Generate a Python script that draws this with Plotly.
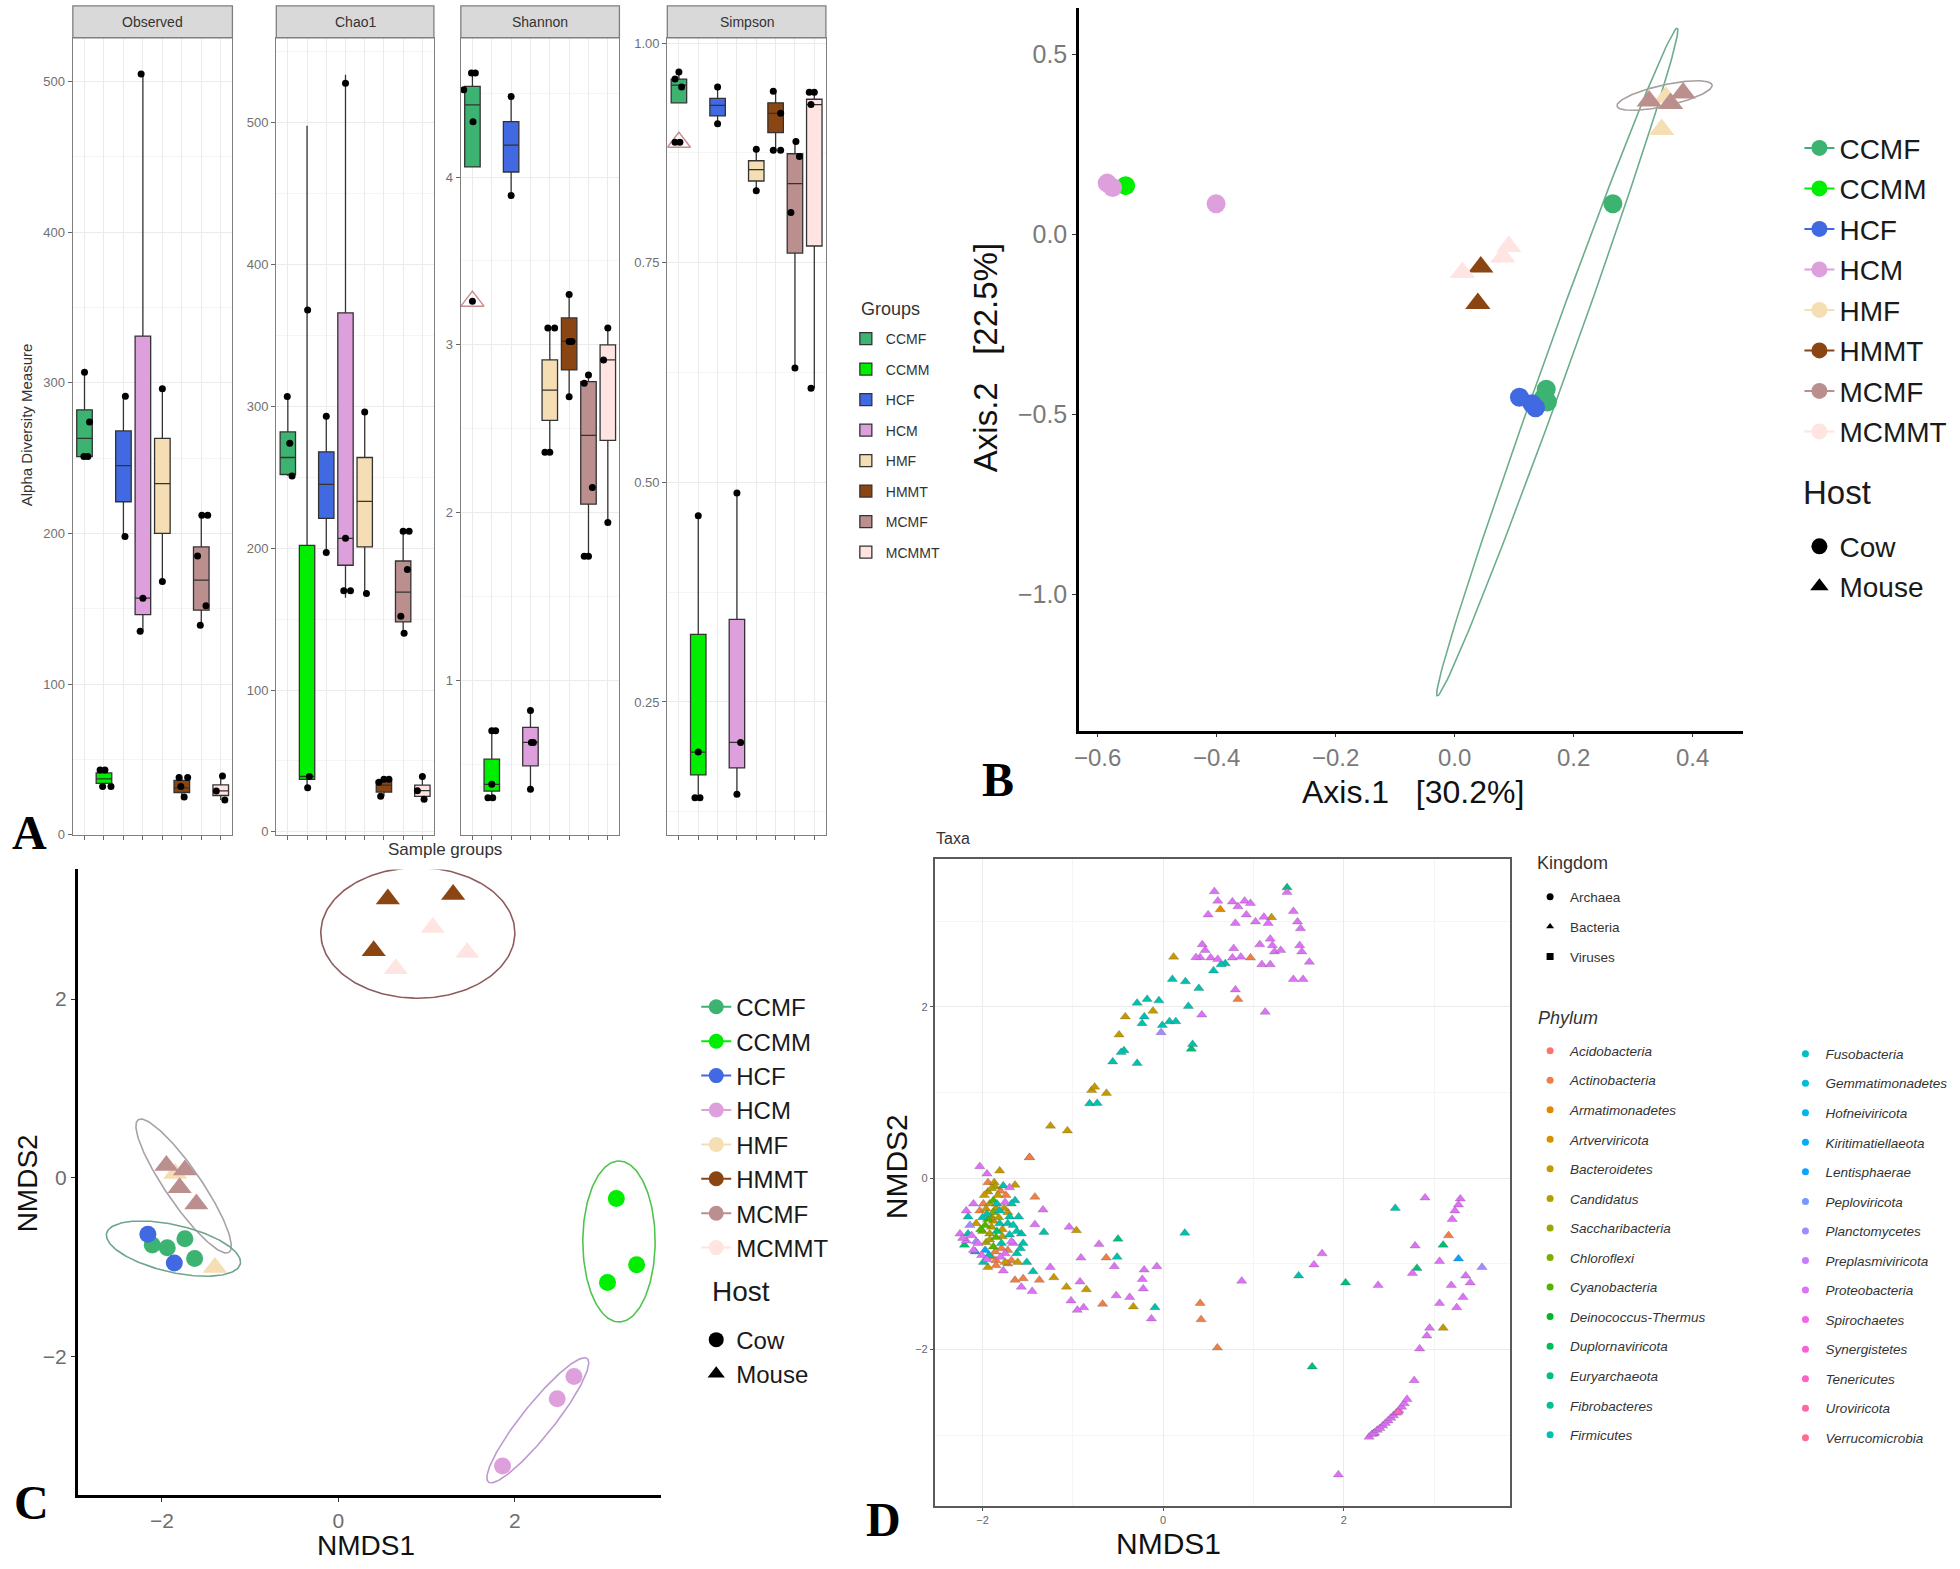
import math
import plotly.graph_objects as go

W, H = 1960, 1569
SANS = "Liberation Sans, Arial, sans-serif"
SERIF = "Liberation Serif, Times New Roman, serif"

# ---------------- shared categories ----------------
GROUPS = ["CCMF", "CCMM", "HCF", "HCM", "HMF", "HMMT", "MCMF", "MCMMT"]
GROUP_COLORS = ["#3CB371", "#00EE00", "#4169E1", "#DDA0DD", "#F5DEB3", "#8B4513", "#BC8F8F", "#FFE4E1"]
GROUP_HOST = ["Cow", "Cow", "Cow", "Cow", "Mouse", "Mouse", "Mouse", "Mouse"]
HOSTS = ["Cow", "Mouse"]

# ---------------- panel A : alpha diversity ----------------
FACETS = ["Observed", "Chao1", "Shannon", "Simpson"]

OBSERVED_LOW = [250, 31, 198, 135, 168, 24, 139, 23]
OBSERVED_Q1 = [251, 34, 221, 146, 200, 28, 149, 26]
OBSERVED_MED = [263, 37, 245, 157, 233, 31, 169, 29]
OBSERVED_Q3 = [282, 41, 268, 331, 263, 36, 191, 33]
OBSERVED_HIGH = [307, 44, 291, 505, 296, 38, 212, 39]
OBSERVED_PT_GROUP = ["CCMF", "CCMF", "CCMF", "CCMF", "CCMM", "CCMM", "CCMM", "CCMM", "HCF", "HCF",
                     "HCM", "HCM", "HCM", "HMF", "HMF", "HMMT", "HMMT", "HMMT", "HMMT",
                     "MCMF", "MCMF", "MCMF", "MCMF", "MCMF", "MCMMT", "MCMMT", "MCMMT"]
OBSERVED_PT_JITTER = [0, 0.26, -0.03, 0.17, -0.2, 0.05, -0.07, 0.36, 0.1, 0.08,
                      -0.09, 0, -0.14, 0, 0, -0.14, 0.3, -0.05, 0.12,
                      0.03, 0.33, -0.19, 0.24, -0.05, 0.09, -0.23, 0.21]
OBSERVED_PT_VALUE = [307, 274, 251, 251, 43, 43, 32, 32, 291, 198,
                     505, 157, 135, 296, 168, 38, 38, 32, 25,
                     212, 212, 185, 152, 139, 39, 29, 23]

CHAO1_LOW = [251, 31, 197, 165, 168, 25, 140, 23]
CHAO1_Q1 = [252, 37, 221, 188, 201, 28, 148, 25]
CHAO1_MED = [264, 39, 245, 207, 233, 33, 169, 29]
CHAO1_Q3 = [282, 202, 268, 366, 264, 36, 191, 33]
CHAO1_HIGH = [307, 498, 293, 534, 296, 37, 212, 39]
CHAO1_PT_GROUP = ["CCMF", "CCMF", "CCMF", "CCMM", "CCMM", "CCMM", "HCF", "HCF",
                  "HCM", "HCM", "HCM", "HCM", "HMF", "HMF", "HMMT", "HMMT", "HMMT", "HMMT",
                  "MCMF", "MCMF", "MCMF", "MCMF", "MCMF", "MCMMT", "MCMMT", "MCMMT"]
CHAO1_PT_JITTER = [-0.03, 0.1, 0.22, 0.03, 0.12, 0.03, 0, 0,
                   0, 0, 0.26, -0.09, 0, 0.09, -0.26, 0, 0.26, -0.17,
                   0, 0.31, 0.22, -0.12, 0.05, 0, -0.26, 0.09]
CHAO1_PT_VALUE = [307, 274, 251, 368, 39, 31, 293, 197,
                  528, 207, 170, 170, 296, 168, 35, 37, 37, 25,
                  212, 212, 185, 152, 140, 39, 29, 23]

SHANNON_LOW = [4.06, 0.30, 3.89, 0.35, 2.36, 2.69, 1.74, 1.94]
SHANNON_Q1 = [4.06, 0.34, 4.03, 0.49, 2.55, 2.85, 2.05, 2.43]
SHANNON_MED = [4.43, 0.38, 4.19, 0.63, 2.73, 3.02, 2.46, 2.91]
SHANNON_Q3 = [4.54, 0.53, 4.33, 0.72, 2.91, 3.16, 2.78, 3.00]
SHANNON_HIGH = [4.62, 0.70, 4.48, 0.82, 3.10, 3.30, 2.82, 3.10]
SHANNON_PT_GROUP = ["CCMF", "CCMF", "CCMF", "CCMF", "CCMF", "CCMM", "CCMM", "CCMM", "CCMM", "CCMM",
                    "HCF", "HCF", "HCM", "HCM", "HCM", "HCM", "HMF", "HMF", "HMF", "HMF",
                    "HMMT", "HMMT", "HMMT", "HMMT", "MCMF", "MCMF", "MCMF", "MCMF", "MCMF",
                    "MCMMT", "MCMMT", "MCMMT"]
SHANNON_PT_JITTER = [-0.05, 0.15, -0.45, 0.03, 0, 0, 0.2, 0, -0.2, 0.05,
                     0, 0, 0, 0.05, 0.15, 0, -0.1, 0.25, -0.25, 0,
                     0, 0, 0.14, 0, 0, -0.22, 0.2, 0, -0.22,
                     0, -0.22, 0]
SHANNON_PT_VALUE = [4.62, 4.62, 4.52, 4.33, 3.26, 0.70, 0.70, 0.38, 0.30, 0.30,
                    4.48, 3.89, 0.82, 0.63, 0.63, 0.35, 3.10, 3.10, 2.36, 2.36,
                    3.30, 3.02, 3.02, 2.69, 2.82, 2.77, 2.15, 1.74, 1.74,
                    3.10, 2.91, 1.94]
SHANNON_OPEN_TRIANGLE = 3.26

SIMPSON_LOW = [0.932, 0.141, 0.908, 0.145, 0.832, 0.878, 0.630, 0.607]
SIMPSON_Q1 = [0.932, 0.167, 0.917, 0.175, 0.843, 0.898, 0.761, 0.769]
SIMPSON_MED = [0.952, 0.193, 0.929, 0.204, 0.856, 0.920, 0.840, 0.930]
SIMPSON_Q3 = [0.959, 0.327, 0.937, 0.344, 0.866, 0.932, 0.874, 0.936]
SIMPSON_HIGH = [0.967, 0.462, 0.950, 0.488, 0.879, 0.945, 0.888, 0.944]
SIMPSON_PT_GROUP = ["CCMF", "CCMF", "CCMF", "CCMF", "CCMF", "CCMM", "CCMM", "CCMM", "CCMM",
                    "HCF", "HCF", "HCM", "HCM", "HCM", "HMF", "HMF",
                    "HMMT", "HMMT", "HMMT", "HMMT", "MCMF", "MCMF", "MCMF", "MCMF",
                    "MCMMT", "MCMMT", "MCMMT", "MCMMT"]
SIMPSON_PT_JITTER = [0, -0.2, 0.14, -0.2, 0.05, 0, 0, -0.17, 0.09,
                     0, 0, 0, 0.19, 0, 0, 0,
                     -0.12, 0.26, -0.12, 0.26, 0.05, 0.23, -0.21, 0,
                     -0.26, 0, -0.17, -0.17]
SIMPSON_PT_VALUE = [0.967, 0.959, 0.950, 0.887, 0.887, 0.462, 0.193, 0.141, 0.141,
                    0.950, 0.908, 0.488, 0.204, 0.145, 0.879, 0.832,
                    0.945, 0.920, 0.878, 0.878, 0.888, 0.871, 0.807, 0.630,
                    0.944, 0.944, 0.930, 0.607]
SIMPSON_OPEN_TRIANGLE = 0.887

OBSERVED_TICKS = [0, 100, 200, 300, 400, 500]
CHAO1_TICKS = [0, 100, 200, 300, 400, 500]
SHANNON_TICKS = [1, 2, 3, 4]
SIMPSON_TICKS = [0.25, 0.50, 0.75, 1.00]

# ---------------- panel B : PCoA ----------------
PCOA_GROUP = ["CCMF", "CCMF", "CCMF", "CCMF", "CCMM", "HCF", "HCF", "HCF", "HCM", "HCM", "HCM",
              "HMF", "HMF", "HMMT", "HMMT", "MCMF", "MCMF", "MCMF", "MCMMT", "MCMMT", "MCMMT"]
PCOA_X = [0.266, 0.154, 0.156, 0.150, -0.553, 0.109, 0.136, 0.130, -0.584, -0.575, -0.401,
          0.348, 0.355, 0.044, 0.039, 0.327, 0.363, 0.384, 0.013, 0.081, 0.091]
PCOA_Y = [0.085, -0.430, -0.465, -0.452, 0.135, -0.452, -0.481, -0.470, 0.142, 0.130, 0.085,
          0.291, 0.380, -0.091, -0.192, 0.370, 0.363, 0.392, -0.106, -0.063, -0.034]
# confidence ellipses: group, centre x, centre y, conjugate semi-axis vectors (u, v)
PCOA_ELLIPSE_GROUP = ["CCMF", "MCMF"]
PCOA_ELLIPSE_CX = [0.1725, 0.353]
PCOA_ELLIPSE_CY = [-0.3545, 0.385]
PCOA_ELLIPSE_U = [(0.2015, 0.9265), (0.080, 0.028)]
PCOA_ELLIPSE_V = [(0.022, 0.0), (0.0, 0.030)]
PCOA_X_TICKS = [-0.6, -0.4, -0.2, 0.0, 0.2, 0.4]
PCOA_Y_TICKS = [-1.0, -0.5, 0.0, 0.5]

# ---------------- panel C : NMDS samples ----------------
NMDS_GROUP = ["HMMT", "HMMT", "HMMT", "MCMMT", "MCMMT", "MCMMT", "MCMF", "MCMF", "MCMF", "MCMF",
              "HMF", "HMF", "CCMF", "CCMF", "CCMF", "CCMF", "HCF", "HCF", "CCMM", "CCMM", "CCMM",
              "HCM", "HCM", "HCM"]
NMDS_X = [0.56, 1.30, 0.40, 1.07, 1.46, 0.65, -1.95, -1.74, -1.80, -1.61,
          -1.40, -1.85, -2.11, -1.94, -1.74, -1.63, -2.16, -1.86, 3.15, 3.38, 3.05,
          2.67, 2.48, 1.86]
NMDS_Y = [3.12, 3.17, 2.54, 2.80, 2.52, 2.34, 0.14, 0.09, -0.11, -0.29,
          -1.00, 0.05, -0.75, -0.78, -0.68, -0.90, -0.63, -0.95, -0.23, -0.97, -1.17,
          -2.22, -2.47, -3.22]
NMDS_ELLIPSE_COLOR_KEY = ["HMMT", "MCMF", "CCMF", "CCMM", "HCM"]
NMDS_ELLIPSE_CX = [0.90, -1.755, -1.87, 3.18, 2.26]
NMDS_ELLIPSE_CY = [2.74, -0.09, -0.79, -0.71, -2.71]
NMDS_ELLIPSE_U = [(1.10, 0.0), (0.515, -0.74), (0.76, -0.15), (0.0, 0.90), (0.56, 0.69)]
NMDS_ELLIPSE_V = [(0.0, 0.73), (0.164, 0.114), (0.0, 0.27), (0.41, 0.0), (-0.14, 0.113)]
NMDS_TICKS = [-2, 0, 2]

# ---------------- panel D : NMDS taxa ----------------
KINGDOMS = ["Archaea", "Bacteria", "Viruses"]
PHYLA = ["Acidobacteria", "Actinobacteria", "Armatimonadetes", "Artverviricota", "Bacteroidetes",
         "Candidatus", "Saccharibacteria", "Chloroflexi", "Cyanobacteria", "Deinococcus-Thermus",
         "Duplornaviricota", "Euryarchaeota", "Fibrobacteres", "Firmicutes",
         "Fusobacteria", "Gemmatimonadetes", "Hofneiviricota", "Kiritimatiellaeota", "Lentisphaerae",
         "Peploviricota", "Planctomycetes", "Preplasmiviricota", "Proteobacteria", "Spirochaetes",
         "Synergistetes", "Tenericutes", "Uroviricota", "Verrucomicrobia"]
PHYLUM_CODES = {"P": "Proteobacteria", "F": "Firmicutes", "E": "Euryarchaeota", "B": "Bacteroidetes",
                "AC": "Actinobacteria", "AR": "Armatimonadetes", "CY": "Cyanobacteria", "CA": "Candidatus",
                "LE": "Lentisphaerae", "PL": "Planctomycetes", "CH": "Chloroflexi", "TE": "Tenericutes"}
TAXA_X = [
    # upper arm
    0.567, 0.605, 0.498, 0.633, 0.767, 0.828, 0.902, 0.967, 0.921, 0.800, 1.023, 1.116, 1.200, 1.163,
    1.442, 1.488, 1.521, 1.372, 1.372, 0.433, 0.409, 0.465, 0.363, 0.526, 0.605, 0.781, 0.767, 0.860,
    0.967, 1.070, 1.186, 1.209, 1.233, 1.302, 1.512, 1.535, 1.619, 1.093, 1.186, 1.442, 1.549, 0.800,
    0.828, 1.130, 0.428, 0.116, 0.688, 0.642, 0.558,
    # teal arm
    0.102, 0.247, 0.395, 0.279, -0.177, -0.288, -0.112, -0.209, -0.233, -0.047, -0.009, 0.070, 0.140,
    -0.023, 0.326, 0.312, -0.419, -0.488, -0.433, -0.465, -0.558, -0.288, -0.791, -0.758, -0.628,
    -0.814, -0.730, -1.247, -1.060, -1.479,
    # main cluster
    -2.03, -1.81, -1.48, -1.95, -1.64, -1.42, -1.33, -1.42, -1.32, -1.04, -0.96, -0.71, -0.50, -0.51,
    -0.54, -0.63, -0.91, -1.25, -1.07, -0.92, -0.85, -1.21, -1.37, -1.44, -1.55, -1.64, -1.57, -1.77,
    -1.94, -1.61, -1.51, -1.57, -1.55, -1.66, -1.72, -2.10, -2.18, -2.25, -2.20, -2.16, -2.16, -2.18,
    -2.10, -1.99, -2.03, -1.94, -1.94, -1.87, -1.77, -1.70, -1.83, -1.88, -1.75, -1.64, -1.81, -1.72,
    -2.07, -1.97, -1.90, -1.81, -1.72, -1.92, -1.85, -1.79, -1.96, -2.05, -2.08, -2.01, -1.90, -1.85,
    -1.75, -1.68, -1.99, -1.75, -1.68, -1.79, -1.97, -2.07, -2.12, -1.90, -1.85, -1.95, -1.78, -1.88,
    -1.93, -1.80, -1.92, -1.86, -2.00,
    -1.98, -1.90, -1.84, -1.76, -1.70, -1.66, -1.62, -1.94, -1.88, -1.82, -1.78, -1.70, -1.86, -1.80,
    -1.72, -1.62, -2.02, -2.00, -1.96, -1.88, -1.74, -1.68, -2.14, -2.22, -1.95, -1.85, -1.60, -1.58,
    -1.84, -1.92,
    # lower band
    -0.21, -0.07, 0.24, -0.23, -0.22, -0.33, -0.09, -0.13, 0.41, 0.42, 0.60, 0.87, -0.52, -0.67, -0.37,
    -0.88, -0.95, -1.02, -1.45,
    # right side
    1.50, 1.65, 1.67, 1.76, 2.02, 2.38, 2.57, 2.79, 2.81, 2.76, 2.90, 3.10, 3.16, 3.06, 3.27, 3.53,
    3.19, 3.35, 3.40, 3.32, 3.25, 3.06, 3.10, 2.95, 2.92, 2.84, 2.78, 3.29, 3.27, 3.23, 3.20, 1.94,
    # diagonal streak
    2.28, 2.31, 2.34, 2.37, 2.40, 2.43, 2.46, 2.49, 2.52, 2.55, 2.58, 2.61, 2.64, 2.67, 2.70, 2.60, 2.33,
]
TAXA_Y = [
    3.346, 3.235, 3.075, 3.136, 3.224, 3.169, 3.235, 3.208, 3.075, 2.975, 2.992, 3.047, 3.042, 2.975,
    3.114, 2.992, 2.914, 3.391, 3.335, 2.726, 2.576, 2.659, 2.576, 2.571, 2.554, 2.681, 2.571, 2.582,
    2.571, 2.726, 2.792, 2.715, 2.643, 2.659, 2.715, 2.643, 2.521, 2.493, 2.493, 2.321, 2.321, 2.199,
    2.089, 1.939, 1.906, 2.582, 2.504, 2.493, 2.421,
    2.321, 2.294, 2.216, 2.006, 2.089, 2.044, 1.950, 1.884, 1.806, 2.072, 1.784, 1.828, 1.828,
    1.701, 1.562, 1.507, 1.884, 1.673, 1.490, 1.468, 1.357, 1.341, 1.025, 1.064, 0.992,
    0.870, 0.875, 0.609, 0.554, 0.244,
    0.137, 0.086, 0.24, 0.05, -0.08, -0.22, -0.37, -0.54, -0.63, -0.57, -0.61, -0.77, -0.71, -0.92,
    -1.03, -0.93, -0.93, -1.04, -1.27, -1.21, -1.30, -1.16, -1.19, -1.09, -1.17, -1.19, -1.27, -1.08,
    -1.04, -0.98, -0.98, -0.65, -0.76, -0.76, -0.84, -0.84, -0.73, -0.65, -0.78, -0.65, -0.45, -0.38,
    -0.30, -0.30, -0.38, -0.16, -0.05, -0.05, -0.09, -0.11, -0.20, -0.26, -0.28, -0.26, -0.38, -0.40,
    -0.53, -0.55, -0.57, -0.53, -0.53, -0.65, -0.69, -0.76, -0.75, -0.76, -0.86, -0.90, -0.92, -0.96,
    -0.88, -0.74, -0.98, -0.98, -0.96, -0.82, -0.84, -0.74, -0.67, -0.45, -0.35, -0.42, -0.60, -0.80,
    -0.90, -0.15, -0.30, -0.10, -0.62,
    -0.20, -0.12, -0.30, -0.35, -0.45, -0.55, -0.62, -0.48, -0.50, -0.46, -0.68, -0.66, -0.86, -0.92,
    -1.00, -0.88, -0.60, -0.46, -0.36, -0.40, -0.20, -0.30, -0.55, -0.70, -0.95, -1.02, -0.45, -0.82,
    -0.62, -0.72,
    -1.07, -1.03, -0.64, -1.18, -1.29, -1.50, -1.51, -1.64, -1.46, -1.65, -1.98, -1.20, -1.37, -1.47, -1.39,
    -1.51, -1.54, -1.43, -1.32,
    -1.14, -2.20, -1.01, -0.88, -1.22, -1.25, -0.35, -0.79, -1.05, -1.11, -0.23, -0.78, -0.67, -0.97,
    -0.94, -1.04, -1.25, -1.14, -1.22, -1.39, -1.51, -1.46, -1.75, -1.75, -1.84, -1.99, -2.36, -0.24,
    -0.31, -0.38, -0.48, -3.46,
    -3.02, -2.99, -2.97, -2.94, -2.92, -2.89, -2.86, -2.83, -2.80, -2.77, -2.74, -2.71, -2.67, -2.63,
    -2.58, -2.73, -2.98,
]
TAXA_PHYLUM = [
    "P", "P", "P", "AR", "P", "P", "P", "P", "P", "P", "P", "P", "B", "P",
    "P", "P", "P", "E", "P", "P", "P", "P", "P", "P", "P", "P", "P", "P",
    "AC", "P", "P", "P", "P", "P", "P", "P", "P", "P", "P", "P", "P", "P",
    "AC", "P", "P", "B", "F", "F", "F",
    "F", "F", "F", "F", "F", "F", "B", "F", "F", "F", "F", "F", "F",
    "PL", "F", "E", "B", "B", "F", "F", "F", "F", "B", "B", "B",
    "F", "F", "B", "B", "AC",
    "P", "B", "AC", "P", "B", "AC", "P", "P", "F", "P", "B", "P", "E", "F",
    "P", "AC", "P", "P", "B", "P", "B", "B", "AC", "F", "AC", "AC", "P", "P",
    "B", "B", "F", "F", "F", "P", "AC", "P", "P", "P", "E", "F", "F", "P",
    "P", "AC", "AC", "B", "AC", "B", "F", "P", "B", "CY", "P", "F", "F", "B",
    "B", "CY", "CA", "F", "F", "CA", "CY", "F", "CA", "P", "LE", "P", "AC", "AC",
    "P", "P", "F", "B", "AC", "AC", "LE", "PL", "P", "B", "CA", "F", "B", "CY",
    "F", "AC", "B", "CA", "CH",
    "B", "CA", "F", "B", "F", "F", "F", "CY", "B", "CA", "B", "F", "AC", "P",
    "AC", "F", "CY", "F", "B", "CH", "AC", "F", "PL", "P", "P", "AC", "F", "F",
    "E", "CA",
    "P", "P", "F", "P", "P", "B", "F", "P", "AC", "AC", "AC", "P", "P", "AC", "P",
    "P", "P", "P", "P",
    "F", "E", "P", "P", "E", "P", "F", "P", "E", "P", "P", "E", "AC", "P",
    "LE", "PL", "P", "P", "P", "P", "P", "P", "B", "P", "P", "P", "P", "P",
    "P", "P", "P", "P",
    "P", "P", "P", "P", "P", "P", "P", "P", "P", "P", "P", "P", "P", "P", "P", "TE", "LE",
]
TAXA_TICKS = [-2, 0, 2]


# ---------------- helpers ----------------
def hue_colors(n, c=100.0, l=65.0):
    """ggplot2 default discrete hue palette (HCL -> sRGB)."""
    out = []
    Xn, Yn, Zn = 95.047, 100.0, 108.883
    un = 4 * Xn / (Xn + 15 * Yn + 3 * Zn)
    vn = 9 * Yn / (Xn + 15 * Yn + 3 * Zn)
    for i in range(n):
        h = 15 + i * 360.0 / n
        u = c * math.cos(math.radians(h))
        v = c * math.sin(math.radians(h))
        Y = Yn * ((l + 16) / 116) ** 3
        up = u / (13 * l) + un
        vp = v / (13 * l) + vn
        X = 9.0 * Y * up / (4 * vp)
        Z = -X / 3 - 5 * Y + 3 * Y / vp
        x, y, z = X / 100, Y / 100, Z / 100
        rgb = [3.240479 * x - 1.537150 * y - 0.498535 * z,
               -0.969256 * x + 1.875992 * y + 0.041556 * z,
               0.055648 * x - 0.204043 * y + 1.057311 * z]
        res = []
        for ch in rgb:
            ch = 12.92 * ch if ch <= 0.0031308 else 1.055 * ch ** (1 / 2.4) - 0.055
            res.append(int(round(max(0.0, min(1.0, ch)) * 255)))
        out.append("#%02X%02X%02X" % tuple(res))
    return out


def ellipse_path(cx, cy, u, v, n=181):
    xs, ys = [], []
    for k in range(n):
        t = 2 * math.pi * k / (n - 1)
        xs.append(cx + u[0] * math.cos(t) + v[0] * math.sin(t))
        ys.append(cy + u[1] * math.cos(t) + v[1] * math.sin(t))
    return xs, ys


def xdom(a, b):
    return [a / W, b / W]


def ydom(top, bot):
    return [1 - bot / H, 1 - top / H]


PHYLUM_COLORS = dict(zip(PHYLA, hue_colors(len(PHYLA))))
HOST_SYMBOL = {"Cow": "circle", "Mouse": "triangle-up"}
KINGDOM_SYMBOL = {"Archaea": "circle", "Bacteria": "triangle-up", "Viruses": "square"}

fig = go.Figure()

# ---------------- panel A traces ----------------
facet_sets = [
    (OBSERVED_LOW, OBSERVED_Q1, OBSERVED_MED, OBSERVED_Q3, OBSERVED_HIGH,
     OBSERVED_PT_GROUP, OBSERVED_PT_JITTER, OBSERVED_PT_VALUE, None),
    (CHAO1_LOW, CHAO1_Q1, CHAO1_MED, CHAO1_Q3, CHAO1_HIGH,
     CHAO1_PT_GROUP, CHAO1_PT_JITTER, CHAO1_PT_VALUE, None),
    (SHANNON_LOW, SHANNON_Q1, SHANNON_MED, SHANNON_Q3, SHANNON_HIGH,
     SHANNON_PT_GROUP, SHANNON_PT_JITTER, SHANNON_PT_VALUE, SHANNON_OPEN_TRIANGLE),
    (SIMPSON_LOW, SIMPSON_Q1, SIMPSON_MED, SIMPSON_Q3, SIMPSON_HIGH,
     SIMPSON_PT_GROUP, SIMPSON_PT_JITTER, SIMPSON_PT_VALUE, SIMPSON_OPEN_TRIANGLE),
]
for fi, (lo, q1, md, q3, hi, pg, pj, pv, tri) in enumerate(facet_sets):
    ax = "" if fi == 0 else str(fi + 1)
    for gi, g in enumerate(GROUPS):
        fig.add_trace(go.Box(
            x=[gi + 1], lowerfence=[lo[gi]], q1=[q1[gi]], median=[md[gi]], q3=[q3[gi]],
            upperfence=[hi[gi]], name=g, width=0.8, fillcolor=GROUP_COLORS[gi],
            line=dict(color="#333333", width=1.3), whiskerwidth=0, boxpoints=False,
            xaxis="x" + ax, yaxis="y" + ax, showlegend=(fi == 0), legend="legend",
            legendgroup="A" + g, hoverinfo="skip"))
    if tri is not None:
        fig.add_trace(go.Scatter(
            x=[1], y=[tri], mode="markers", xaxis="x" + ax, yaxis="y" + ax, showlegend=False,
            marker=dict(symbol="triangle-up-open", size=20, color="#C98E8E", line=dict(width=1.5)),
            hoverinfo="skip"))
    fig.add_trace(go.Scatter(
        x=[GROUPS.index(g) + 1 + j for g, j in zip(pg, pj)], y=pv, mode="markers",
        xaxis="x" + ax, yaxis="y" + ax, showlegend=False,
        marker=dict(color="black", size=7), hoverinfo="skip"))

# ---------------- panel B traces ----------------
for k, g in enumerate(PCOA_ELLIPSE_GROUP):
    ex, ey = ellipse_path(PCOA_ELLIPSE_CX[k], PCOA_ELLIPSE_CY[k], PCOA_ELLIPSE_U[k], PCOA_ELLIPSE_V[k])
    col = "#6AAE8C" if g == "CCMF" else "#A99E9E"
    fig.add_trace(go.Scatter(x=ex, y=ey, mode="lines", line=dict(color=col, width=1.6),
                             xaxis="x5", yaxis="y5", showlegend=False, hoverinfo="skip"))
for gi, g in enumerate(GROUPS):
    xs = [x for x, gg in zip(PCOA_X, PCOA_GROUP) if gg == g]
    ys = [y for y, gg in zip(PCOA_Y, PCOA_GROUP) if gg == g]
    sym = HOST_SYMBOL[GROUP_HOST[gi]]
    fig.add_trace(go.Scatter(x=xs, y=ys, mode="markers", xaxis="x5", yaxis="y5", showlegend=False,
                             marker=dict(color=GROUP_COLORS[gi], symbol=sym,
                                         size=19 if sym == "circle" else 22),
                             hoverinfo="skip"))
    fig.add_trace(go.Scatter(x=[None], y=[None], mode="lines+markers", name=g, xaxis="x5", yaxis="y5",
                             marker=dict(color=GROUP_COLORS[gi], size=16, symbol="circle"),
                             line=dict(color=GROUP_COLORS[gi], width=2),
                             legend="legend2", legendgroup="B" + g))
for h in HOSTS:
    fig.add_trace(go.Scatter(x=[None], y=[None], mode="markers", name=h, xaxis="x5", yaxis="y5",
                             marker=dict(color="black", size=16, symbol=HOST_SYMBOL[h]),
                             legend="legend3", legendgroup="BH" + h))

# ---------------- panel C traces ----------------
NMDS_ELLIPSE_COLORS = {"HMMT": "#8E5C5C", "MCMF": "#A9A1A9", "CCMF": "#6FA58A",
                       "CCMM": "#4FC44F", "HCM": "#BE9AD0"}
for k, key in enumerate(NMDS_ELLIPSE_COLOR_KEY):
    ex, ey = ellipse_path(NMDS_ELLIPSE_CX[k], NMDS_ELLIPSE_CY[k], NMDS_ELLIPSE_U[k], NMDS_ELLIPSE_V[k])
    fig.add_trace(go.Scatter(x=ex, y=ey, mode="lines", line=dict(color=NMDS_ELLIPSE_COLORS[key], width=1.6),
                             xaxis="x6", yaxis="y6", showlegend=False, hoverinfo="skip"))
for gi, g in enumerate(GROUPS):
    xs = [x for x, gg in zip(NMDS_X, NMDS_GROUP) if gg == g]
    ys = [y for y, gg in zip(NMDS_Y, NMDS_GROUP) if gg == g]
    sym = HOST_SYMBOL[GROUP_HOST[gi]]
    fig.add_trace(go.Scatter(x=xs, y=ys, mode="markers", xaxis="x6", yaxis="y6", showlegend=False,
                             marker=dict(color=GROUP_COLORS[gi], symbol=sym,
                                         size=17 if sym == "circle" else 21),
                             hoverinfo="skip"))
    fig.add_trace(go.Scatter(x=[None], y=[None], mode="lines+markers", name=g, xaxis="x6", yaxis="y6",
                             marker=dict(color=GROUP_COLORS[gi], size=15, symbol="circle"),
                             line=dict(color=GROUP_COLORS[gi], width=2),
                             legend="legend4", legendgroup="C" + g))
for h in HOSTS:
    fig.add_trace(go.Scatter(x=[None], y=[None], mode="markers", name=h, xaxis="x6", yaxis="y6",
                             marker=dict(color="black", size=15, symbol=HOST_SYMBOL[h]),
                             legend="legend5", legendgroup="CH" + h))

# ---------------- panel D traces ----------------
taxa_names = [PHYLUM_CODES[c] for c in TAXA_PHYLUM]
for p in PHYLA:
    xs = [x for x, n in zip(TAXA_X, taxa_names) if n == p]
    ys = [y for y, n in zip(TAXA_Y, taxa_names) if n == p]
    if xs:
        fig.add_trace(go.Scatter(x=xs, y=ys, mode="markers", xaxis="x7", yaxis="y7", showlegend=False,
                                 marker=dict(color=PHYLUM_COLORS[p], symbol="triangle-up", size=9,
                                             line=dict(color="rgba(60,60,60,0.35)", width=0.6)),
                                 hoverinfo="skip"))
for kdm in KINGDOMS:
    fig.add_trace(go.Scatter(x=[None], y=[None], mode="markers", name=kdm, xaxis="x7", yaxis="y7",
                             marker=dict(color="black", size=7, symbol=KINGDOM_SYMBOL[kdm]),
                             legend="legend6", legendgroup="K" + kdm))
for pi, p in enumerate(PHYLA):
    fig.add_trace(go.Scatter(x=[None], y=[None], mode="markers", name="<i>%s</i>" % p,
                             xaxis="x7", yaxis="y7",
                             marker=dict(color=PHYLUM_COLORS[p], size=7, symbol="circle"),
                             legend="legend7" if pi < 14 else "legend8", legendgroup="P" + p))

# ---------------- axes ----------------
A_DOMS = [(68, 228), (272, 430), (457, 616), (664, 823)]
A_TOP, A_BOT = 36, 838
A_RANGES = [[0, 529], [-2, 560], [0.08, 4.83], [0.099, 1.006]]
A_TICKS = [OBSERVED_TICKS, CHAO1_TICKS, SHANNON_TICKS, SIMPSON_TICKS]
A_TICKTEXT = [[str(t) for t in OBSERVED_TICKS], [str(t) for t in CHAO1_TICKS],
              [str(t) for t in SHANNON_TICKS], ["%.2f" % t for t in SIMPSON_TICKS]]
A_MINOR = [(0, 50), (0, 50), (0, 0.5), (0, 0.125)]
layout = dict(width=W, height=H, margin=dict(l=0, r=0, t=0, b=0), autosize=False,
              paper_bgcolor="white", plot_bgcolor="white", showlegend=True,
              font=dict(family=SANS, color="#222222"))
for fi in range(4):
    suf = "" if fi == 0 else str(fi + 1)
    layout["xaxis" + suf] = dict(
        domain=xdom(*A_DOMS[fi]), range=[0.4, 8.6], tickvals=list(range(1, 9)), showticklabels=False,
        ticks="outside", ticklen=4, tickcolor="#666666", showgrid=True, gridcolor="#EBEBEB",
        showline=True, mirror=True, linecolor="#7F7F7F", linewidth=1.3, zeroline=False,
        anchor="y" + suf, fixedrange=True)
    layout["yaxis" + suf] = dict(
        domain=ydom(A_TOP, A_BOT), range=A_RANGES[fi], tickvals=A_TICKS[fi], ticktext=A_TICKTEXT[fi],
        ticks="outside", ticklen=4, tickcolor="#666666", tickfont=dict(size=13, color="#707070"),
        showgrid=True, gridcolor="#EBEBEB",
        minor=dict(tick0=A_MINOR[fi][0], dtick=A_MINOR[fi][1], showgrid=True, gridcolor="#F5F5F5"),
        showline=True, mirror=True, linecolor="#7F7F7F", linewidth=1.3, zeroline=False,
        anchor="x" + suf, fixedrange=True)

layout["xaxis5"] = dict(domain=xdom(1077, 1742), range=[-0.631, 0.484], tickvals=PCOA_X_TICKS,
                        tickformat=".1f", ticks="outside", ticklen=3, tickcolor="#333333",
                        tickfont=dict(size=24, color="#7A7A7A"), showgrid=False, zeroline=False,
                        showline=True, linecolor="black", linewidth=3, anchor="y5")
layout["yaxis5"] = dict(domain=ydom(6, 734), range=[-1.379, 0.628], tickvals=PCOA_Y_TICKS,
                        tickformat=".1f", ticks="outside", ticklen=4, tickcolor="#333333",
                        tickfont=dict(size=25, color="#7A7A7A"), showgrid=False, zeroline=False,
                        showline=True, linecolor="black", linewidth=3, anchor="x5")
layout["xaxis6"] = dict(domain=xdom(73, 658), range=[-2.954, 3.66], tickvals=NMDS_TICKS,
                        ticks="outside", ticklen=4, tickcolor="#333333",
                        tickfont=dict(size=21, color="#6E6E6E"), showgrid=False, zeroline=False,
                        showline=True, linecolor="black", linewidth=3, anchor="y6")
layout["yaxis6"] = dict(domain=ydom(873, 1503), range=[-3.55, 3.45], tickvals=NMDS_TICKS,
                        ticks="outside", ticklen=4, tickcolor="#333333",
                        tickfont=dict(size=21, color="#6E6E6E"), showgrid=False, zeroline=False,
                        showline=True, linecolor="black", linewidth=3, anchor="x6")
layout["xaxis7"] = dict(domain=xdom(932, 1509), range=[-2.53, 3.842], tickvals=TAXA_TICKS,
                        ticks="outside", ticklen=3, tickcolor="#555555",
                        tickfont=dict(size=11, color="#666666"), showgrid=True, gridcolor="#EBEBEB",
                        minor=dict(tick0=0, dtick=1, showgrid=True, gridcolor="#F5F5F5"),
                        zeroline=False, showline=True, mirror=True, linecolor="#5A5A5A", linewidth=1.5,
                        anchor="y7")
layout["yaxis7"] = dict(domain=ydom(862, 1514), range=[-3.83, 3.73], tickvals=TAXA_TICKS,
                        ticks="outside", ticklen=3, tickcolor="#555555",
                        tickfont=dict(size=11, color="#666666"), showgrid=True, gridcolor="#EBEBEB",
                        minor=dict(tick0=0, dtick=1, showgrid=True, gridcolor="#F5F5F5"),
                        zeroline=False, showline=True, mirror=True, linecolor="#5A5A5A", linewidth=1.5,
                        anchor="x7")


# ---------------- legends ----------------
def legend_box(left, top, fsize, gap, color="#1A1A1A"):
    return dict(x=left / W, y=1 - top / H, xanchor="left", yanchor="top", bgcolor="rgba(0,0,0,0)",
                borderwidth=0, font=dict(size=fsize, color=color, family=SANS), traceorder="grouped",
                tracegroupgap=gap, itemsizing="trace", itemclick=False, itemdoubleclick=False,
                title=dict(text=""))


layout["legend"] = legend_box(843, 323, 14, 9.3, color="#333333")
layout["legend2"] = legend_box(1799, 122, 28, 1.1)
layout["legend3"] = legend_box(1799, 523, 28, 0.6)
layout["legend4"] = legend_box(693, 989, 24, 0.2)
layout["legend5"] = legend_box(693, 1324, 24, 0.0)
layout["legend6"] = legend_box(1529, 885, 13.5, 9.4, color="#333333")
layout["legend7"] = legend_box(1529, 1040, 13.5, 9.0, color="#333333")
layout["legend8"] = legend_box(1785, 1043, 13.5, 9.0, color="#333333")

# ---------------- strips, labels ----------------
shapes = []
annotations = []
for fi, (a, b) in enumerate(A_DOMS):
    shapes.append(dict(type="rect", xref="paper", yref="paper", x0=a / W, x1=b / W,
                       y0=1 - A_TOP / H, y1=1 - 4 / H, fillcolor="#D9D9D9",
                       line=dict(color="#7F7F7F", width=1.3), layer="above"))
    annotations.append(dict(text=FACETS[fi], x=(a + b) / 2 / W, y=1 - 20 / H, xref="paper", yref="paper",
                            xanchor="center", yanchor="middle", showarrow=False,
                            font=dict(size=14, color="#333333", family=SANS)))


def label(text, x, y, size, color="#111111", angle=0, family=SANS, xanchor="center"):
    annotations.append(dict(text=text, x=x / W, y=1 - y / H, xref="paper", yref="paper", showarrow=False,
                            textangle=angle, xanchor=xanchor, yanchor="middle",
                            font=dict(size=size, color=color, family=family)))


label("Alpha Diversity Measure", 21, 425, 15, "#333333", -90)
label("Sample groups", 441, 853, 17, "#333333")
label("Axis.1\u00a0\u00a0\u00a0[30.2%]", 1412, 795, 32)
label("Axis.2\u00a0\u00a0\u00a0[22.5%]", 983, 358, 33, angle=-90)
label("NMDS1", 362, 1553, 28)
label("NMDS2", 22, 1189, 28, angle=-90)
label("NMDS1", 1166, 1551, 30)
label("NMDS2", 894, 1172, 30, angle=-90)
label("Taxa", 931, 842, 16, "#333333", xanchor="left")
label("Groups", 856, 309, 18, "#333333", xanchor="left")
label("Host", 1801, 494, 33, "#1A1A1A", xanchor="left")
label("Host", 707, 1298, 28, "#1A1A1A", xanchor="left")
label("Kingdom", 1534, 867, 18, "#333333", xanchor="left")
label("<i>Phylum</i>", 1535, 1023, 18, "#333333", xanchor="left")
label("<b>A</b>", 25, 836, 48, "black", family=SERIF)
label("<b>B</b>", 996, 782, 48, "black", family=SERIF)
label("<b>C</b>", 27, 1510, 48, "black", family=SERIF)
label("<b>D</b>", 881, 1527, 48, "black", family=SERIF)

layout["shapes"] = shapes
layout["annotations"] = annotations
fig.update_layout(**layout)
fig.write_html("out.html", config={"displayModeBar": False},
               post_script="document.body.style.margin='0px';document.body.style.padding='0px';"
                           "document.documentElement.style.overflow='hidden';")
